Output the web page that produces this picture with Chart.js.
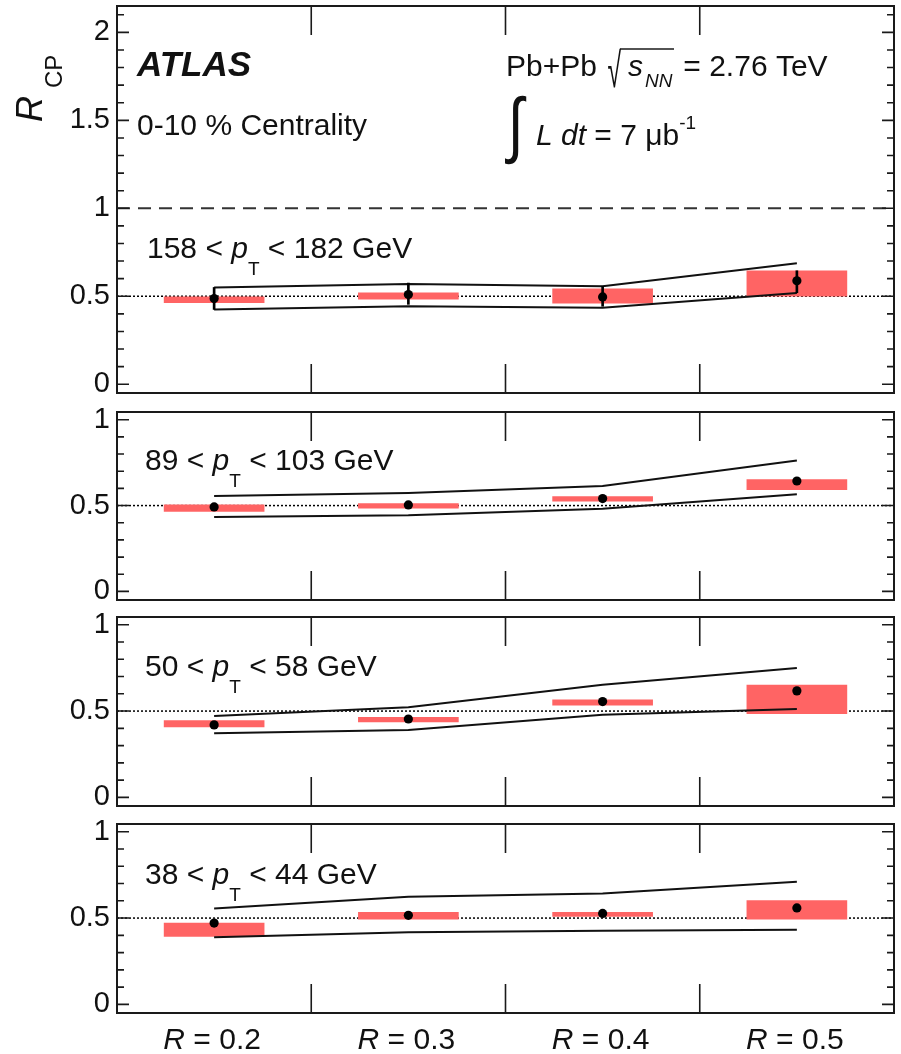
<!DOCTYPE html>
<html>
<head>
<meta charset="utf-8">
<title>ATLAS R_CP vs R</title>
<script src="https://cdn.jsdelivr.net/npm/chart.js@4.4.1/dist/chart.umd.min.js"></script>
<style>
  html, body { margin: 0; padding: 0; background: #fff; }
  #wrap { position: relative; width: 901px; height: 1054px; }
  #wrap canvas { position: absolute; left: 0; top: 0; }
</style>
</head>
<body>
<div id="wrap">
  <canvas id="p0" width="901" height="1054"></canvas>
  <canvas id="p1" width="901" height="1054"></canvas>
  <canvas id="p2" width="901" height="1054"></canvas>
  <canvas id="p3" width="901" height="1054"></canvas>
</div>
<script>
/* ── data ── */
const R_VALUES      = [0.2, 0.3, 0.4, 0.5];
const X_TICK_LABELS = ['R = 0.2', 'R = 0.3', 'R = 0.4', 'R = 0.5'];
const X_MAJOR_TICKS = [0.25, 0.35, 0.45];
const Y_TICKS_TOP   = [0, 0.5, 1, 1.5, 2];
const Y_TICKS       = [0, 0.5, 1];
const PT_LO = [158, 89, 50, 38];
const PT_HI = [182, 103, 58, 44];

// 158 < pT < 182 GeV
const RCP_158     = [0.487, 0.510, 0.496, 0.588];
const SYS_LO_158  = [0.464, 0.483, 0.461, 0.500];
const SYS_HI_158  = [0.496, 0.519, 0.542, 0.645];
const STAT_LO_158 = [0.425, 0.454, 0.443, 0.520];
const STAT_HI_158 = [0.550, 0.575, 0.557, 0.645];
const BAND_LO_158 = [0.425, 0.443, 0.435, 0.519];
const BAND_HI_158 = [0.550, 0.569, 0.557, 0.688];

// 89 < pT < 103 GeV
const RCP_89     = [0.492, 0.504, 0.541, 0.643];
const SYS_LO_89  = [0.466, 0.485, 0.525, 0.593];
const SYS_HI_89  = [0.504, 0.512, 0.552, 0.651];
const BAND_LO_89 = [0.434, 0.444, 0.481, 0.566];
const BAND_HI_89 = [0.556, 0.573, 0.614, 0.763];

// 50 < pT < 58 GeV
const RCP_50     = [0.420, 0.454, 0.555, 0.617];
const SYS_LO_50  = [0.408, 0.437, 0.534, 0.485];
const SYS_HI_50  = [0.445, 0.464, 0.565, 0.650];
const BAND_LO_50 = [0.371, 0.390, 0.478, 0.512];
const BAND_HI_50 = [0.472, 0.522, 0.652, 0.749];

// 38 < pT < 44 GeV
const RCP_38     = [0.471, 0.516, 0.527, 0.559];
const SYS_LO_38  = [0.393, 0.494, 0.510, 0.494];
const SYS_HI_38  = [0.471, 0.533, 0.533, 0.601];
const BAND_LO_38 = [0.389, 0.418, 0.426, 0.432];
const BAND_HI_38 = [0.555, 0.623, 0.642, 0.710];

const SERIES = [
  { rcp: RCP_158, sysLo: SYS_LO_158, sysHi: SYS_HI_158, bandLo: BAND_LO_158, bandHi: BAND_HI_158, statLo: STAT_LO_158, statHi: STAT_HI_158 },
  { rcp: RCP_89,  sysLo: SYS_LO_89,  sysHi: SYS_HI_89,  bandLo: BAND_LO_89,  bandHi: BAND_HI_89 },
  { rcp: RCP_50,  sysLo: SYS_LO_50,  sysHi: SYS_HI_50,  bandLo: BAND_LO_50,  bandHi: BAND_HI_50 },
  { rcp: RCP_38,  sysLo: SYS_LO_38,  sysHi: SYS_HI_38,  bandLo: BAND_LO_38,  bandHi: BAND_HI_38 },
];

/* ── layout / style ── */
const PAGE_W = 901, PAGE_H = 1054;
const FRAME_L = 117, FRAME_R = 894;
const X_MIN = 0.15, X_MAX = 0.55, Y_MIN = -0.05;
const LAYOUT = [
  { top: 6,   bottom: 393,  yMax: 2.15,  labelX: 147, labelY: 258 },
  { top: 412, bottom: 600,  yMax: 1.045, labelX: 145, labelY: 470 },
  { top: 617, bottom: 806,  yMax: 1.045, labelX: 145, labelY: 676 },
  { top: 824, bottom: 1013, yMax: 1.045, labelX: 145, labelY: 884 },
];
const SANS = '"Liberation Sans", Arial, Helvetica, sans-serif';
const font = (size, style) => (style ? style + ' ' : '') + size + 'px ' + SANS;
const INK = '#111';
const RED = '#ff6464';

/* ── text helpers ── */
function runs(ctx, x, y, parts) {
  parts.forEach(([t, f, dy]) => {
    ctx.font = f;
    ctx.fillText(t, x, y + (dy || 0));
    x += ctx.measureText(t).width;
  });
  return x;
}
function runsWidth(ctx, parts) {
  let w = 0;
  parts.forEach(([t, f]) => { ctx.font = f; w += ctx.measureText(t).width; });
  return w;
}
// squeeze a single glyph into a box (tall ROOT-style integral / radical)
function fitGlyph(ctx, ch, f, x0, y0, x1, y1) {
  ctx.font = f;
  const m = ctx.measureText(ch);
  const w = m.actualBoundingBoxLeft + m.actualBoundingBoxRight;
  const h = m.actualBoundingBoxAscent + m.actualBoundingBoxDescent;
  ctx.save();
  ctx.translate(x0, y0);
  ctx.scale((x1 - x0) / w, (y1 - y0) / h);
  ctx.fillText(ch, m.actualBoundingBoxLeft, m.actualBoundingBoxAscent);
  ctx.restore();
}

/* ── frame, ticks, reference lines, labels ── */
const decor = {
  id: 'decor',
  beforeDatasetsDraw(chart, args, o) {
    const { ctx, chartArea: a, scales: { y } } = chart;
    ctx.save();
    ctx.beginPath();
    ctx.rect(a.left, a.top, a.right - a.left, a.bottom - a.top);
    ctx.clip();
    if (o.index === 0) {
      const y1 = y.getPixelForValue(1);
      ctx.strokeStyle = '#333';
      ctx.lineWidth = 2;
      ctx.setLineDash([13, 8]);
      ctx.beginPath(); ctx.moveTo(a.left, y1); ctx.lineTo(a.right, y1); ctx.stroke();
    }
    const yh = y.getPixelForValue(0.5);
    ctx.strokeStyle = '#000';
    ctx.lineWidth = 1.5;
    ctx.setLineDash([2, 2]);
    ctx.beginPath(); ctx.moveTo(a.left, yh); ctx.lineTo(a.right, yh); ctx.stroke();
    ctx.restore();
  },
  afterDraw(chart, args, o) {
    const { ctx, chartArea: a, scales: { x, y } } = chart;
    const L = LAYOUT[o.index];
    ctx.save();
    ctx.strokeStyle = '#1a1a1a';
    ctx.lineWidth = 2;
    ctx.setLineDash([]);
    ctx.strokeRect(a.left, a.top, a.right - a.left, a.bottom - a.top);

    // y ticks inward, both sides
    ctx.lineWidth = 1.6;
    ctx.beginPath();
    for (let k = 0; k / 10 <= L.yMax + 1e-9; k++) {
      const py = y.getPixelForValue(k / 10);
      const len = k % 5 === 0 ? 12 : 7;
      ctx.moveTo(a.left, py);  ctx.lineTo(a.left + len, py);
      ctx.moveTo(a.right, py); ctx.lineTo(a.right - len, py);
    }
    // x ticks inward, top and bottom
    X_MAJOR_TICKS.forEach(v => {
      const px = x.getPixelForValue(v);
      ctx.moveTo(px, a.top);    ctx.lineTo(px, a.top + 29);
      ctx.moveTo(px, a.bottom); ctx.lineTo(px, a.bottom - 29);
    });
    ctx.stroke();

    ctx.fillStyle = INK;
    ctx.textAlign = 'left';
    ctx.textBaseline = 'alphabetic';
    const f30 = font(30), i30 = font(30, 'italic');

    // pT bin label
    runs(ctx, L.labelX, L.labelY, [
      [PT_LO[o.index] + ' < ', f30],
      ['p', i30],
      ['T', font(19), 17],
      [' < ' + PT_HI[o.index] + ' GeV', f30],
    ]);

    if (o.index === 0) {
      ctx.font = font(35, 'italic bold');
      ctx.fillText('ATLAS', 137, 76);
      ctx.font = f30;
      ctx.fillText('0-10 % Centrality', 137, 135);

      // Pb+Pb sqrt(s_NN) = 2.76 TeV
      ctx.fillText('Pb+Pb', 506, 76);
      fitGlyph(ctx, '\u221A', font(40), 608, 48, 621, 88);
      ctx.lineWidth = 1.5;
      ctx.beginPath(); ctx.moveTo(620, 49); ctx.lineTo(674, 49); ctx.stroke();
      runs(ctx, 628, 76, [['s', i30]]);
      runs(ctx, 645, 76, [['NN', font(19, 'italic'), 11]]);
      runs(ctx, 675, 76, [[' = 2.76 TeV', f30]]);

      // integral L dt = 7 mub^-1
      fitGlyph(ctx, '\u222B', font(60), 505, 95, 527, 165);
      runs(ctx, 536, 145, [
        ['L', i30], [' dt', i30], [' = 7 ', f30], ['\u03BCb', f30], ['-1', font(19), -16],
      ]);

      // y-axis title R_CP
      ctx.save();
      ctx.translate(42, 122);
      ctx.rotate(-Math.PI / 2);
      ctx.font = font(36, 'italic');
      ctx.fillText('R', 0, 0);
      ctx.font = font(24);
      ctx.fillText('CP', 34, 20);
      ctx.restore();
    }

    if (o.index === LAYOUT.length - 1) {
      X_TICK_LABELS.forEach((lab, k) => {
        const parts = [[lab.slice(0, 1), i30], [lab.slice(1), f30]];
        const w = runsWidth(ctx, parts);
        runs(ctx, x.getPixelForValue(R_VALUES[k]) - w / 2 - 2, 1049, parts);
      });
    }
    ctx.restore();
  }
};

/* ── build the four panels ── */
function makePanel(i) {
  const L = LAYOUT[i], S = SERIES[i];
  const pts = arr => R_VALUES.map((r, k) => ({ x: r, y: arr[k] }));
  const span = (lo, hi) => R_VALUES.map((r, k) => ({ x: r, y: [lo[k], hi[k]] }));
  const line = arr => ({
    type: 'line', data: pts(arr), borderColor: INK, borderWidth: 2,
    pointRadius: 0, tension: 0, fill: false, order: 2,
  });

  const datasets = [
    { type: 'scatter', data: pts(S.rcp), pointRadius: 4.6, pointBackgroundColor: '#000',
      pointBorderWidth: 0, order: 0 },
    line(S.bandHi),
    line(S.bandLo),
    { type: 'bar', data: span(S.sysLo, S.sysHi), backgroundColor: RED, borderWidth: 0,
      barThickness: 100, grouped: false, order: 3 },
  ];
  if (S.statLo) {
    datasets.push({ type: 'bar', data: span(S.statLo, S.statHi), backgroundColor: '#000',
      borderWidth: 0, barThickness: 2, grouped: false, order: 1 });
  }

  new Chart(document.getElementById('p' + i), {
    type: 'bar',
    data: { datasets },
    plugins: [decor],
    options: {
      responsive: false,
      animation: false,
      events: [],
      layout: { padding: { left: 0, right: PAGE_W - FRAME_R, top: L.top, bottom: PAGE_H - L.bottom } },
      plugins: {
        legend: { display: false },
        tooltip: { enabled: false },
        decor: { index: i },
      },
      scales: {
        x: { type: 'linear', min: X_MIN, max: X_MAX, offset: false, display: false },
        y: {
          type: 'linear', min: Y_MIN, max: L.yMax,
          grid: { display: false, drawTicks: false },
          border: { display: false },
          afterBuildTicks: s => { s.ticks = (i === 0 ? Y_TICKS_TOP : Y_TICKS).map(v => ({ value: v })); },
          afterFit: s => { s.width = FRAME_L; s.paddingTop = 0; s.paddingBottom = 0; },
          ticks: {
            autoSkip: false, padding: 7, color: INK,
            font: { family: SANS, size: 29 },
            callback: v => String(v),
          },
        },
      },
    },
  });
}

LAYOUT.forEach((_, i) => makePanel(i));
</script>
</body>
</html>
